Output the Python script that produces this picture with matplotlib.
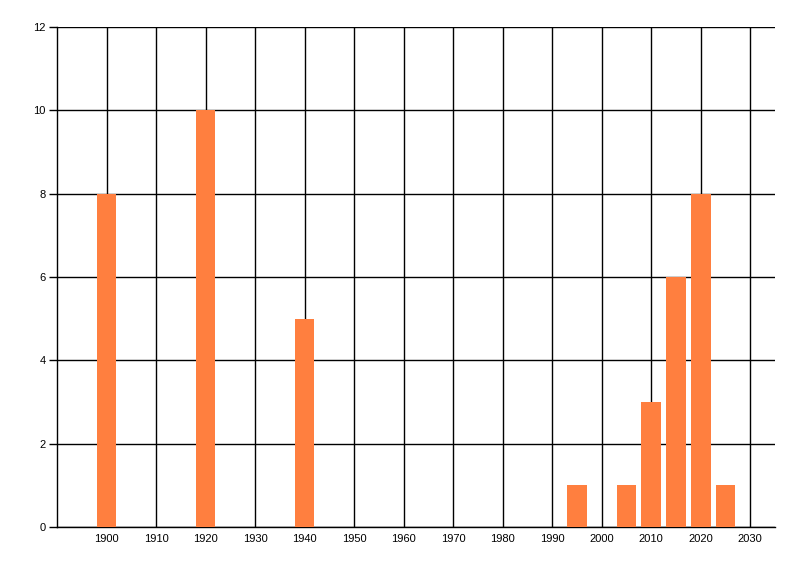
import matplotlib.pyplot as plt

# data
years = [1900, 1920, 1940, 1995, 2005, 2010, 2015, 2020, 2025]
counts = [8, 10, 5, 1, 1, 3, 6, 8, 1]
x_ticks = list(range(1900, 2031, 10))
y_ticks = [0, 2, 4, 6, 8, 10, 12]

plt.rcParams['font.family'] = ['Liberation Sans', 'DejaVu Sans']

fig = plt.figure(figsize=(8, 5.76), dpi=100)
ax = fig.add_axes([57 / 800, 49 / 576, 718 / 800, 500 / 576])

ax.bar(years, counts, width=4, color='#FF7F3F', zorder=3)

ax.set_xlim(1890, 2035)
ax.set_ylim(0, 12)
ax.set_xticks(x_ticks)
ax.set_yticks(y_ticks)
ax.grid(True, color='black', linewidth=1.0, zorder=0)
ax.set_axisbelow(True)

for side in ['top', 'right']:
    ax.spines[side].set_visible(False)
ax.spines['left'].set_linewidth(1.0)
ax.spines['bottom'].set_linewidth(1.0)

ax.tick_params(axis='x', length=0, pad=5, labelsize=8)
ax.tick_params(axis='y', length=6, width=1.0, pad=2, labelsize=8)

fig.savefig('out.png', dpi=100)
